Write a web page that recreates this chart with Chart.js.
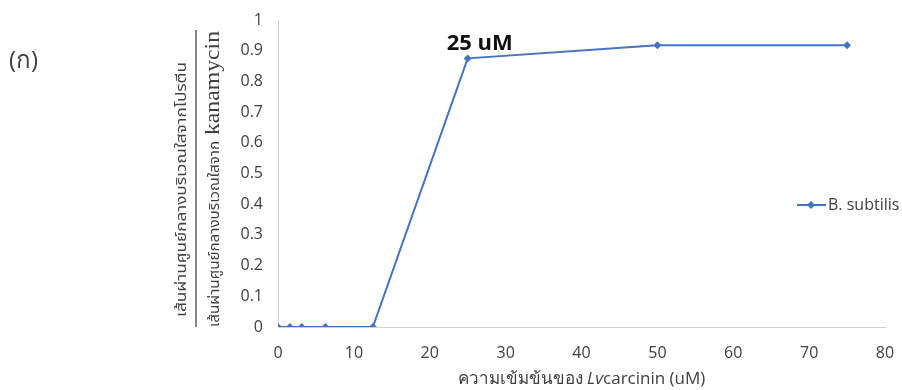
<!DOCTYPE html>
<html>
<head>
<meta charset="utf-8">
<script src="https://cdn.jsdelivr.net/npm/chart.js@4.4.9/dist/chart.umd.min.js"></script>
<style>
  html, body { margin: 0; padding: 0; background: #fff; }
  #wrap { width: 902px; height: 390px; position: relative; }
</style>
</head>
<body>
<div id="wrap"><canvas id="chart" width="902" height="390"></canvas></div>
<script>
// concentrations (uM) and ratio values
const concentrations = [0, 1.5625, 3.125, 6.25, 12.5, 25, 50, 75];
const ratioValues = [0, 0, 0, 0, 0, 0.875, 0.918, 0.918];
const seriesName = 'B. subtilis';
const panelLabel = '(ก)';
const peakNote = '25 uM';
const peakAt = 25;
const yTitleTop = 'เส้นผ่านศูนย์กลางบริเวณใสจากโปรตีน';
const yTitleBottom = 'เส้นผ่านศูนย์กลางบริเวณใสจาก ';
const yTitleBottomLatin = 'kanamycin';
const xTitleParts = [['ความเข้มข้นของ ', false], ['Lv', true], ['carcinin (uM)', false]];

const lineColor = '#4472C4';
const textColor = '#404040';
const tickFont = '"Open Sans", "Noto Sans", sans-serif';

const points = concentrations.map((c, i) => ({ x: c, y: ratioValues[i] }));

// draw text squeezed/stretched to a given length
const fitText = (ctx, text, x, y, len) => {
    const w = ctx.measureText(text).width;
    ctx.save();
    ctx.translate(x, y);
    ctx.scale(len / w, 1);
    ctx.fillText(text, 0, 0);
    ctx.restore();
};

const extrasPlugin = {
    id: 'extras',
    afterDraw(chart) {
        const ctx = chart.ctx;
        const xs = chart.scales.x;
        const ys = chart.scales.y;
        const area = chart.chartArea;
        ctx.save();

        // panel label
        ctx.fillStyle = textColor;
        ctx.font = '24px ' + tickFont;
        ctx.textBaseline = 'middle';
        ctx.textAlign = 'left';
        ctx.fillText(panelLabel, 9, 61);

        // annotation at 25 uM
        const idx = concentrations.indexOf(peakAt);
        const px = xs.getPixelForValue(peakAt);
        const py = ys.getPixelForValue(ratioValues[idx]);
        ctx.fillStyle = '#111';
        ctx.font = 'bold 22px ' + tickFont;
        ctx.textBaseline = 'alphabetic';
        ctx.fillText(peakNote, px - 21, py - 8);

        // legend
        const ly = 205;
        ctx.strokeStyle = lineColor;
        ctx.lineWidth = 2;
        ctx.beginPath();
        ctx.moveTo(797, ly);
        ctx.lineTo(826, ly);
        ctx.stroke();
        ctx.fillStyle = lineColor;
        ctx.beginPath();
        ctx.moveTo(811, ly - 4);
        ctx.lineTo(815, ly);
        ctx.lineTo(811, ly + 4);
        ctx.lineTo(807, ly);
        ctx.closePath();
        ctx.fill();
        ctx.fillStyle = textColor;
        ctx.font = '16px ' + tickFont;
        ctx.textBaseline = 'middle';
        ctx.fillText(seriesName, 828, ly);

        // x title with italic part
        let total = 0;
        const widths = xTitleParts.map(([t, it]) => {
            ctx.font = (it ? 'italic ' : '') + '17px ' + tickFont;
            const w = ctx.measureText(t).width;
            total += w;
            return w;
        });
        let tx = (area.left + area.right) / 2 - total / 2;
        ctx.textBaseline = 'middle';
        xTitleParts.forEach(([t, it], i) => {
            ctx.font = (it ? 'italic ' : '') + '17px ' + tickFont;
            ctx.fillText(t, tx, 379);
            tx += widths[i];
        });

        // y title as a fraction, rotated
        ctx.save();
        ctx.rotate(-Math.PI / 2);
        ctx.strokeStyle = '#333';
        ctx.lineWidth = 1.2;
        ctx.beginPath();
        ctx.moveTo(-30, 196);
        ctx.lineTo(-327, 196);
        ctx.stroke();
        // numerator
        ctx.fillStyle = textColor;
        ctx.textAlign = 'left';
        ctx.textBaseline = 'alphabetic';
        const thaiFont = '14px "Noto Sans", "Noto Sans Thai", sans-serif';
        ctx.font = thaiFont;
        fitText(ctx, yTitleTop, -317, 186, 255);
        // denominator: thai part + serif latin
        fitText(ctx, yTitleBottom, -327, 219, 190);
        ctx.font = '22px "Liberation Serif", "DejaVu Serif", serif';
        fitText(ctx, yTitleBottomLatin, -135, 219, 104);
        ctx.restore();

        ctx.restore();
    }
};

new Chart(document.getElementById('chart').getContext('2d'), {
    type: 'line',
    data: {
        datasets: [{
            label: seriesName,
            data: points,
            borderColor: lineColor,
            backgroundColor: lineColor,
            borderWidth: 2,
            pointStyle: 'rectRot',
            pointRadius: 4,
            pointBorderWidth: 0,
            tension: 0
        }]
    },
    options: {
        responsive: false,
        animation: false,
        layout: { padding: { top: 20, right: 17, left: 0, bottom: 0 } },
        plugins: {
            legend: { display: false },
            tooltip: { enabled: false }
        },
        scales: {
            x: {
                type: 'linear',
                min: 0,
                max: 80,
                grid: { display: false, drawTicks: false },
                border: { display: true, color: '#d0d0d0', width: 1 },
                ticks: { stepSize: 10, color: textColor, padding: 17, maxRotation: 0,
                    font: { family: tickFont, size: 16 } },
                afterFit(scale) {
                    scale.height = 63;
                    scale.paddingLeft = 0;
                    scale.paddingRight = 0;
                }
            },
            y: {
                min: 0,
                max: 1,
                grid: { display: false, drawTicks: false },
                border: { display: true, color: '#d0d0d0', width: 1 },
                ticks: { stepSize: 0.1, color: textColor, padding: 15,
                    font: { family: tickFont, size: 16 },
                    callback: v => String(Number(v.toFixed(2))) },
                afterFit(scale) {
                    scale.width = 278;
                    scale.paddingTop = 0;
                    scale.paddingBottom = 0;
                }
            }
        }
    },
    plugins: [extrasPlugin]
});
</script>
</body>
</html>
